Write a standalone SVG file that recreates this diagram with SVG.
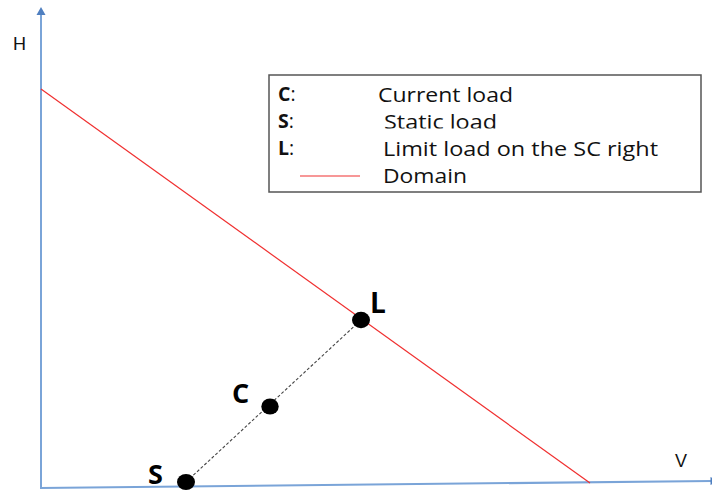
<svg xmlns="http://www.w3.org/2000/svg" width="712" height="492" viewBox="0 0 712 492">
<style>
.axis{stroke:#7aa4d8;stroke-width:2;fill:none}
.arrow{fill:#4f7fc0}
.domain{stroke:#f03030;stroke-width:1.2;fill:none}
.lbl{font-family:"Liberation Sans",Arial,sans-serif;font-size:18px;fill:#111}
.big{font-family:"Open Sans","DejaVu Sans",sans-serif;font-weight:bold;fill:#000}
.leg{font-family:"Open Sans","Noto Sans",sans-serif;font-size:19.5px;fill:#111}
.legb{font-family:"Open Sans","Noto Sans",sans-serif;font-size:19.5px;font-weight:bold;fill:#111}
.pt{fill:#000}
</style>
<defs>
<clipPath id="clipS"><rect x="370" y="100" width="200" height="28.5"/></clipPath>
</defs>
<rect width="712" height="492" fill="#fff"/>
<g id="axes">
<line class="axis" x1="41" y1="488" x2="41" y2="13"/>
<polygon class="arrow" points="41,7 36.5,15 45.5,15"/>
<line class="axis" x1="40" y1="488" x2="712" y2="481"/>
<polygon class="arrow" points="710.5,477 719,481 710.5,485"/>
<text class="lbl" x="13" y="50">H</text>
<text class="lbl" x="675" y="467">V</text>
</g>
<g id="domain">
<line class="domain" x1="41" y1="89" x2="590" y2="483"/>
</g>
<g id="connectors">
<line x1="186" y1="482" x2="361" y2="320" stroke="#444" stroke-width="1.1" stroke-dasharray="3,2"/>
</g>
<g id="node-S">
<ellipse class="pt" cx="186" cy="482" rx="9" ry="8"/>
<text class="big" x="148" y="484" font-size="27">S</text>
</g>
<g id="node-C">
<ellipse class="pt" cx="270" cy="406.5" rx="8.7" ry="8"/>
<text class="big" x="232" y="403" font-size="27">C</text>
</g>
<g id="node-L">
<ellipse class="pt" cx="361" cy="320" rx="9" ry="8.2"/>
<text class="big" x="370" y="313" font-size="28">L</text>
</g>
<g id="legend">
<rect x="269" y="75" width="432" height="117" fill="#fff" stroke="#555" stroke-width="1.5"/>
<text class="legb" x="278" y="101">C<tspan font-weight="normal">:</tspan></text>
<text class="leg" x="378" y="102" textLength="135" lengthAdjust="spacingAndGlyphs">Current load</text>
<text class="legb" x="278" y="128">S<tspan font-weight="normal">:</tspan></text>
<text class="leg" x="384" y="129" textLength="113" lengthAdjust="spacingAndGlyphs" clip-path="url(#clipS)">Static load</text>
<text class="legb" x="278" y="155">L<tspan font-weight="normal">:</tspan></text>
<text class="leg" x="383" y="156" textLength="275" lengthAdjust="spacingAndGlyphs">Limit load on the SC right</text>
<line class="domain" x1="300" y1="176" x2="360" y2="176"/>
<text class="leg" x="383" y="183" textLength="84" lengthAdjust="spacingAndGlyphs">Domain</text>
</g>
</svg>
